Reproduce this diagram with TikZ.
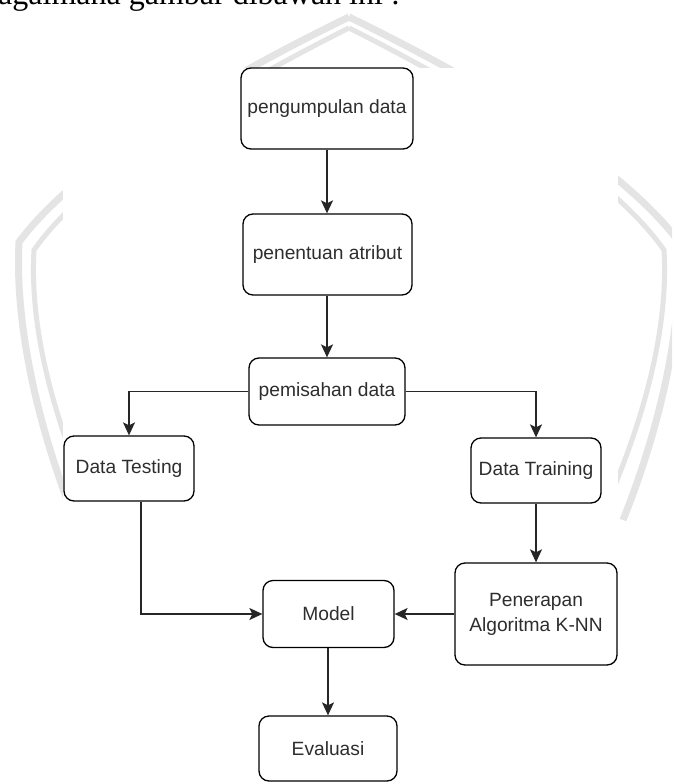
\documentclass[tikz,border=0pt]{standalone}
\usepackage{fontspec}
\setmainfont{Liberation Sans}
\newfontfamily\headserif{Liberation Serif}
\usetikzlibrary{arrows.meta}
\definecolor{wm}{HTML}{E4E4E4}
\definecolor{txt}{HTML}{2E2E2E}
\tikzset{
  stepbox/.style={draw=black, line width=1.3pt, rounded corners=10pt, fill=white,
    align=center, inner sep=0pt, text=txt,
    font=\fontsize{19.2}{25}\selectfont},
  arr/.style={draw=black!85, line width=1.4pt,
    -{Stealth[length=13pt,width=12pt,inset=3pt]}},
  wmouter/.style={draw=wm, line width=7pt, line join=miter},
  wminner/.style={draw=wm, line width=5pt, line join=miter}
}
\begin{document}
\begin{tikzpicture}[x=1pt,y=-1pt]
\useasboundingbox (0,0) rectangle (672,783);
\clip (0,0) rectangle (672,783);
\fill[white] (0,0) rectangle (672,783);
% watermark
\foreach \s in {1,-1}{
  \begin{scope}[shift={(349,0)}, xscale=\s]
    \draw[wmouter] (0,17) .. controls (-119,75) and (-269,160) .. (-330,242)
                         .. controls (-334,320) and (-314,420) .. (-274,520);
    \draw[wminner] (0,28) .. controls (-114,85) and (-259,170) .. (-315,250)
                         .. controls (-319,320) and (-301,400) .. (-264,490);
  \end{scope}
}
\fill[white] (63,68) rectangle (618,783);
% heading text (cut off at top, as in the reference)
\node[anchor=base west, inner sep=0pt, font=\headserif\fontsize{32}{38}\selectfont] (head) at (-2,5) {agaimana gambar dibawah ini :};
% boxes
\node[stepbox, minimum width=172, minimum height=81] (n1) at (327,108.5) {pengumpulan data};
\node[stepbox, minimum width=169, minimum height=81] (n2) at (327.5,254.5) {penentuan atribut};
\node[stepbox, minimum width=156, minimum height=67] (n3) at (327,391.5) {pemisahan data};
\node[stepbox, minimum width=130, minimum height=65] (n4) at (129,468.5) {Data Testing};
\node[stepbox, minimum width=130, minimum height=65] (n5) at (536,470.5) {Data Training};
\node[stepbox, minimum width=162, minimum height=102] (n6) at (536,614) {Penerapan\\Algoritma K-NN};
\node[stepbox, minimum width=131, minimum height=67] (n7) at (328.5,614) {Model};
\node[stepbox, minimum width=138, minimum height=65] (n8) at (328,748.5) {Evaluasi};
\coordinate (c1) at (141,0);
% connectors
\draw[arr] (n1.south -| n3.north) -- (n2.north -| n3.north);
\draw[arr] (n2.south -| n3.north) -- (n3.north);
\draw[arr] (n3.west) -| (n4.north);
\draw[arr] (n3.east) -| (n5.north);
\draw[arr] (n5.south) -- (n6.north);
\draw[arr] (n4.south -| c1) |- (n7.west);
\draw[arr] (n6.west) -- (n7.east);
\draw[arr] (n7.south -| n8.north) -- (n8.north);
\end{tikzpicture}
\end{document}
